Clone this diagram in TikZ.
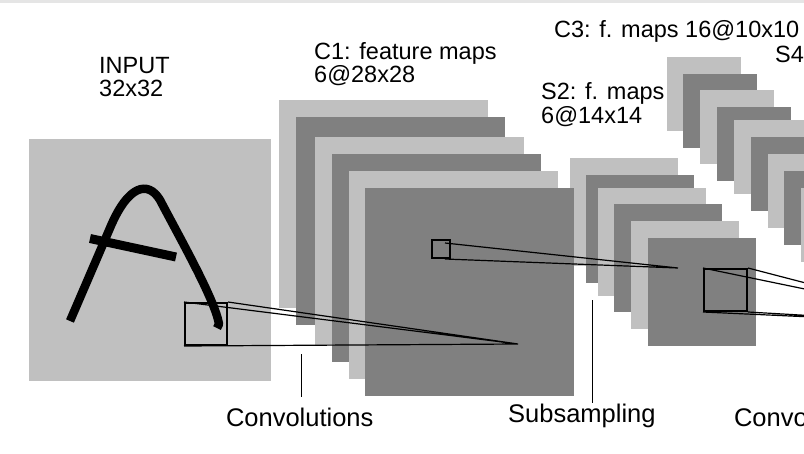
\documentclass[tikz,border=0pt]{standalone}
\usepackage{fontspec}
\setmainfont{Liberation Sans}
\definecolor{lightmap}{HTML}{C0C0C0}
\definecolor{darkmap}{HTML}{808080}
\tikzset{
  lab/.style={anchor=base west, inner sep=0pt, font=\fontsize{23.5}{24}\selectfont},
  biglab/.style={anchor=base west, inner sep=0pt, font=\fontsize{25.5}{26}\selectfont},
  rfbox/.style={draw=black, line width=2pt, inner sep=0pt, anchor=north west},
  rfline/.style={black, line width=1.2pt},
  tick/.style={black, line width=1pt},
  pen/.style={black, line width=8.5pt, line join=round}
}
\begin{document}
\begin{tikzpicture}[x=1pt,y=-1pt]
\useasboundingbox (0,0) rectangle (804,453);
\clip (0,0) rectangle (804,453);
\fill[white] (0,0) rectangle (804,453);
\fill[black!10] (0,0) rectangle (804,2.5);

% C3
\foreach \px/\py/\c in {667/57/lightmap, 683/74/darkmap, 700/90/lightmap, 717/107/darkmap, 734/120/lightmap, 751/137/darkmap, 768/154/lightmap, 784/171/darkmap, 801/188/lightmap}
{
\fill[\c] (\px,\py) rectangle ++(74,74);
}

% S2
\foreach \px/\py/\c in {570/158/lightmap, 586/175/darkmap, 598/188/lightmap, 614/204/darkmap, 631/221/lightmap, 648/238/darkmap}
{
\fill[\c] (\px,\py) rectangle ++(108,108);
}

% C1
\foreach \px/\py/\c in {279/100/lightmap, 296/117/darkmap, 315/137/lightmap, 332/154/darkmap, 349/171/lightmap, 365/188/darkmap}
{
\fill[\c] (\px,\py) rectangle ++(209,208);
}

% input
\fill[lightmap] (29,139) rectangle ++(242,242);
\draw[pen] (70,321) -- (110,228) .. controls (128,185) and (148,180) .. (160,200) .. controls (181,240) and (215,300) .. (219,324) -- (217,328);
\draw[pen, line width=9pt] (90,238.5) -- (176,257);

% receptive fields
\node[rfbox, minimum width=42pt, minimum height=42pt] (inbox) at (184,302) {};
\coordinate (c1tip) at (518,344);
\draw[rfline] (inbox.north west) -- (c1tip) (inbox.north east) -- (c1tip) (inbox.south west) -- (c1tip);

\node[rfbox, minimum width=18pt, minimum height=18pt] (c1box) at (431,239) {};
\coordinate (c1a) at (445,243);
\coordinate (c1b) at (445,259);
\coordinate (s2tip) at (678,268);
\draw[rfline] (c1a) -- (s2tip) (c1b) -- (s2tip);

\node[rfbox, minimum width=43pt, minimum height=42pt] (s2box) at (703,268) {};
\coordinate (c3top) at (921,313);
\coordinate (c3bot) at (921,322);
\draw[rfline] (s2box.north west) -- (c3top) (s2box.north east) -- (c3top) (s2box.south west) -- (c3bot) (s2box.south east) -- (c3bot);

% labels
\node[lab] (input) at (99,73) {INPUT};
\node[lab] (inputsize) at ([yshift=-23pt]input.base west) {32x32};
\node[lab] (c1label) at (314,59) {C1: feature maps};
\node[lab] (c1size) at ([yshift=-23pt]c1label.base west) {6@28x28};
\node[lab] (s2label) at (541,99) {S2: f. maps};
\node[lab] (s2size) at ([yshift=-24pt]s2label.base west) {6@14x14};
\node[lab] (c3label) at (554,37) {C3: f. maps 16@10x10};
\node[lab] (s4label) at (775,62) {S4};

\node[biglab] (conv1) at (225.8,426) {Convolutions};
\node[biglab] (subs) at (508,422) {Subsampling};
\node[biglab] (conv2) at (733.8,426) {Convolutions};

\coordinate (conv1top) at (301,354);
\coordinate (conv1bot) at (301,397);
\coordinate (substop) at (592,300);
\coordinate (subsbot) at (592,403);
\draw[tick] (conv1top) -- (conv1bot);
\draw[tick] (substop) -- (subsbot);

\end{tikzpicture}
\end{document}
